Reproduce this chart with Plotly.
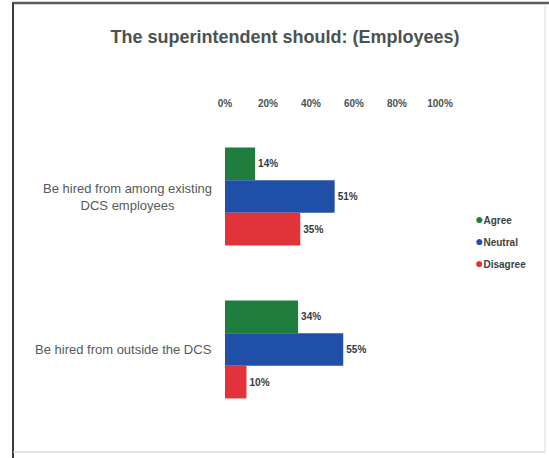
import plotly.graph_objects as go

categories = ["Be hired from among existing DCS employees", "Be hired from outside the DCS"]
category_labels = ["Be hired from among existing<br>DCS employees", "Be hired from outside the DCS"]
series_names = ["Agree", "Neutral", "Disagree"]
agree = [14, 34]
neutral = [51, 55]
disagree = [35, 10]
tick_vals = [0, 20, 40, 60, 80, 100]
tick_text = ["0%", "20%", "40%", "60%", "80%", "100%"]

colors = ["#1f7d3d", "#1f4fa6", "#e3333a"]
series_values = [agree, neutral, disagree]

W, H = 549, 458
L, R, T, B = 225, 109, 120, 32
pw, ph = W - L - R, H - T - B

def px_x(x):
    return (x - L) / pw

def px_y(y):
    return (H - B - y) / ph

fig = go.Figure()
for name, vals, col in zip(series_names, series_values, colors):
    fig.add_trace(go.Bar(
        y=categories, x=vals, orientation="h", name=name,
        marker=dict(color=col, line=dict(width=0)),
        text=[f"<b>{v}%</b>" for v in vals], textposition="outside",
        textfont=dict(family="Liberation Sans", size=10, color="#333b3b"),
        cliponaxis=False, showlegend=False,
    ))

for cat, lab in zip(categories, category_labels):
    fig.add_annotation(
        x=px_x(214), xref="paper", y=cat, yref="y",
        text=lab, showarrow=False, xanchor="right", yanchor="middle",
        align="center",
        font=dict(family="Liberation Sans", size=13, color="#555a5a"),
    )

# legend (dot + label), built from the series names and colours
legend_top = 219
legend_step = 22
for i, (name, col) in enumerate(zip(series_names, colors)):
    fig.add_annotation(
        x=px_x(473), xref="paper", y=px_y(legend_top + i * legend_step), yref="paper",
        text=f"<span style='color:{col};font-size:14px'>●</span><b>{name}</b>",
        showarrow=False, xanchor="left", yanchor="middle", align="left",
        font=dict(family="Liberation Sans", size=10, color="#3a4242"),
    )

# scanned frame
fig.add_shape(type="line", xref="paper", yref="paper",
              x0=px_x(13), x1=px_x(13), y0=px_y(458), y1=px_y(2),
              line=dict(color="#3a3a3a", width=2))
fig.add_shape(type="line", xref="paper", yref="paper",
              x0=px_x(13), x1=px_x(549), y0=px_y(3), y1=px_y(3),
              line=dict(color="#5a5a5a", width=2.5))
fig.add_shape(type="line", xref="paper", yref="paper",
              x0=px_x(545), x1=px_x(545), y0=px_y(452), y1=px_y(4),
              line=dict(color="#d8dcdc", width=1))
fig.add_shape(type="line", xref="paper", yref="paper",
              x0=px_x(13), x1=px_x(545), y0=px_y(452), y1=px_y(452),
              line=dict(color="#c8cccc", width=1))

fig.update_layout(
    width=W, height=H,
    margin=dict(l=L, r=R, t=T, b=B, autoexpand=False),
    paper_bgcolor="white", plot_bgcolor="white",
    barmode="group", bargap=0.36, bargroupgap=0,
    title=dict(text="<b>The superintendent should: (Employees)</b>",
               x=285 / W, xanchor="center", y=1 - 37 / H, yanchor="middle",
               xref="container", yref="container",
               font=dict(family="Liberation Sans", size=18, color="#4a5252")),
    xaxis=dict(side="top", range=[0, 100], tickvals=tick_vals,
               ticktext=[f"<b>{t}</b>" for t in tick_text],
               showgrid=False, zeroline=False, showline=False, ticks="",
               ticklabelstandoff=10,
               tickfont=dict(family="Liberation Sans", size=10, color="#4a5252")),
    yaxis=dict(autorange="reversed", showticklabels=False, showgrid=False,
               zeroline=False, showline=False, ticks=""),
    showlegend=False,
)

fig.write_html("out.html", config={"displayModeBar": False},
               post_script="document.body.style.margin='0';")
